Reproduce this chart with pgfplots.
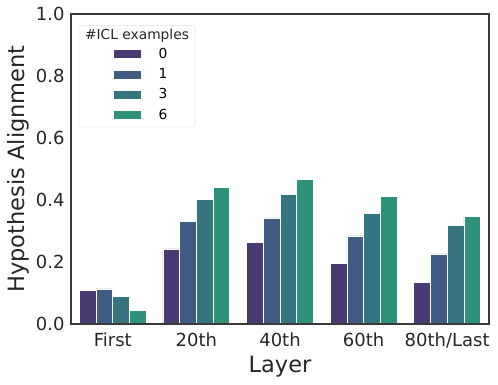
\documentclass[border=0pt]{standalone}
\usepackage{fontspec}
\setmainfont{DejaVu Sans}
\usepackage{pgfplots}
\pgfplotsset{compat=1.18}
\usetikzlibrary{fit}

\definecolor{cA}{HTML}{493A73}
\definecolor{cB}{HTML}{415C82}
\definecolor{cC}{HTML}{34757F}
\definecolor{cD}{HTML}{2E917A}
\definecolor{frame}{HTML}{3A3A3A}

\begin{document}
\begin{tikzpicture}
\useasboundingbox (-71pt,-61pt) rectangle (427pt,324pt);
\begin{axis}[
    at={(0,0)}, anchor=south west,
    scale only axis,
    width=418pt, height=310pt,
    axis on top,
    ybar=0pt, bar width=0.2,
    xmin=-0.5, xmax=4.5,
    ymin=0, ymax=1.0,
    xtick={0,1,2,3,4},
    xticklabels={First,20th,40th,60th,80th/Last},
    ytick={0,0.2,0.4,0.6,0.8,1.0},
    yticklabel style={/pgf/number format/fixed, /pgf/number format/fixed zerofill, /pgf/number format/precision=1},
    /pgf/number format/assume math mode=true,
    major tick length=0pt,
    tick label style={font=\fontsize{18}{20}\selectfont, text=black!85},
    x tick label style={yshift=-5pt},
    y tick label style={xshift=-3pt},
    axis line style={frame, line width=1.1pt},
    xlabel={Layer},
    ylabel={Hypothesis Alignment},
    label style={font=\fontsize{22.5}{26}\selectfont, text=black!85},
    xlabel style={at={(axis description cs:0.5,0)}, anchor=base, yshift=-49pt},
    ylabel style={at={(axis description cs:-0.1124,0.5)}, anchor=base},
    every axis plot/.append style={draw=white, line width=0.7pt},
    legend image code/.code={\fill[#1] (0pt,-4.5pt) rectangle (28pt,4.5pt);},
    legend style={at={(rel axis cs:0.1,0.896)}, anchor=north west,
        draw=none, fill=none, name=leg,
        font=\fontsize{13.8}{16}\selectfont,
        row sep=4.5pt, inner sep=0pt,
        /tikz/every odd column/.append style={column sep=15pt}},
    legend cell align=left,
]
\addplot[fill=cA] coordinates {(0,0.109) (1,0.242) (2,0.263) (3,0.195) (4,0.134)};
\addplot[fill=cB] coordinates {(0,0.113) (1,0.330) (2,0.342) (3,0.284) (4,0.226)};
\addplot[fill=cC] coordinates {(0,0.088) (1,0.403) (2,0.418) (3,0.358) (4,0.318)};
\addplot[fill=cD] coordinates {(0,0.045) (1,0.440) (2,0.465) (3,0.411) (4,0.348)};
\legend{0,1,3,6}
\end{axis}
\node[anchor=base, inner sep=0pt, font=\fontsize{13.8}{16}\selectfont, text=black!85] (ttl) at (66pt,284pt) {\#ICL examples};
\node[draw=black!12, rounded corners=2.5pt, inner xsep=6pt, inner ysep=4pt, fit=(ttl)(leg)] {};
\end{tikzpicture}
\end{document}
